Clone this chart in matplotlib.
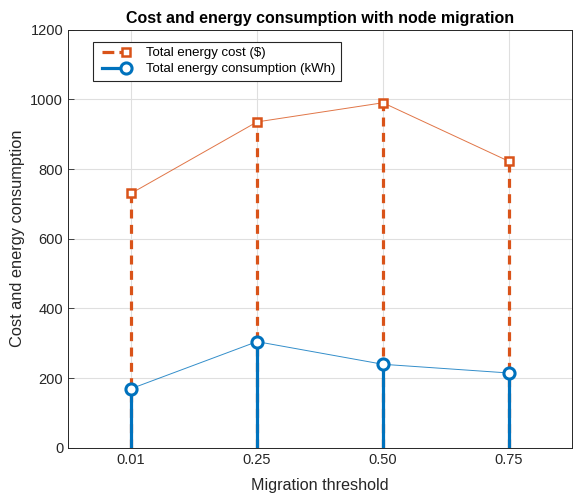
import matplotlib.pyplot as plt
from matplotlib.lines import Line2D
from matplotlib.legend_handler import HandlerBase

plt.rcParams['font.family'] = ['Liberation Sans', 'DejaVu Sans']

# data
thresholds = ['0.01', '0.25', '0.50', '0.75']
energy_cost = [730, 935, 990, 822]
energy_use = [170, 305, 240, 215]

orange = '#D95319'
blue = '#0072BD'


class StemHandler(HandlerBase):
    # MATLAB-style stem legend: line with marker at the right end
    def create_artists(self, legend, orig, xdescent, ydescent, width, height, fontsize, trans):
        y = height / 2 - ydescent
        x0 = -xdescent + 0.3 * fontsize
        line = Line2D([x0, width - xdescent], [y, y], color=orig.get_color(),
                      linestyle=orig.get_linestyle(), linewidth=orig.get_linewidth())
        mark = Line2D([width - xdescent], [y], marker=orig.get_marker(), markersize=orig.get_markersize(),
                      markeredgecolor=orig.get_color(), markerfacecolor='white',
                      markeredgewidth=orig.get_markeredgewidth(), linestyle='none')
        line.set_transform(trans)
        mark.set_transform(trans)
        return [line, mark]


fig = plt.figure(figsize=(5.73, 4.96), dpi=100)
ax = fig.add_axes([0.1187, 0.0968, 0.8795, 0.8437])

xs = list(range(1, len(thresholds) + 1))
dash = (0, (2.8, 2.0))

# stems
ax.vlines(xs, 0, energy_cost, colors=orange, linestyles=dash, linewidth=2.3, zorder=3)
ax.plot(xs, energy_cost, color=orange, linewidth=0.7, alpha=0.8, zorder=3)
ax.plot(xs, energy_cost, linestyle='none', marker='s', markersize=6, markeredgewidth=1.8,
        markeredgecolor=orange, markerfacecolor='white', zorder=4)

ax.vlines(xs, 0, energy_use, colors=blue, linewidth=2.3, zorder=5)
ax.plot(xs, energy_use, color=blue, linewidth=0.7, alpha=0.8, zorder=5)
ax.plot(xs, energy_use, linestyle='none', marker='o', markersize=8, markeredgewidth=2.2,
        markeredgecolor=blue, markerfacecolor='white', zorder=6)

h1 = Line2D([], [], color=orange, linestyle=dash, linewidth=2.3, marker='s',
            markersize=6, markeredgewidth=1.8)
h2 = Line2D([], [], color=blue, linestyle='-', linewidth=2.3, marker='o',
            markersize=8, markeredgewidth=2.2)
leg = ax.legend([h1, h2], ['Total energy cost ($)', 'Total energy consumption (kWh)'],
                handler_map={Line2D: StemHandler()}, loc='upper left',
                bbox_to_anchor=(0.0496, 0.971), borderaxespad=0, fontsize=9.5,
                handlelength=2.1, handletextpad=1.55, borderpad=0.4, labelspacing=0.3,
                fancybox=False, edgecolor='#262626', framealpha=1)
leg.get_frame().set_linewidth(0.8)

ax.set_xlim(0.5, 4.5)
ax.set_ylim(0, 1200)
ax.set_xticks(xs)
ax.set_xticklabels(thresholds)
ax.set_yticks(range(0, 1201, 200))
ax.grid(True, color='#dfdfdf', linewidth=0.8)
ax.set_axisbelow(True)
ax.tick_params(direction='in', length=4, labelsize=10.5, colors='#262626', width=0.6)
for s in ax.spines.values():
    s.set_color('#262626')
    s.set_linewidth(0.7)

ax.set_title('Cost and energy consumption with node migration', fontsize=11.5,
             fontweight='bold', pad=4.5)
ax.set_xlabel('Migration threshold', fontsize=11.6, color='#262626', labelpad=8)
ax.set_ylabel('Cost and energy consumption', fontsize=11.8, color='#262626')

fig.savefig('out.png', dpi=100)
